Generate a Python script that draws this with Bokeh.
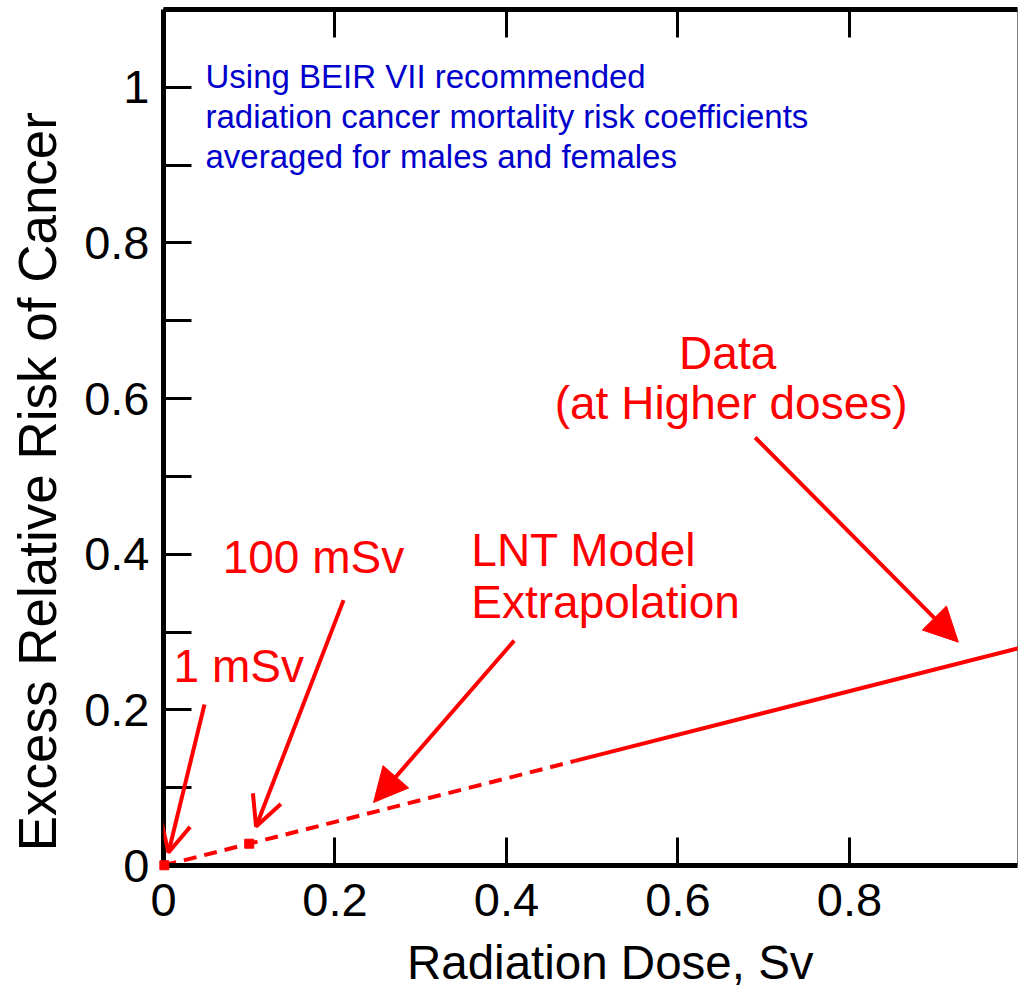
from bokeh.plotting import figure
from bokeh.models import (LinearAxis, FixedTicker, Range1d, Arrow,
                          NormalHead, OpenHead)
from bokeh.core.properties import value
from bokeh.embed import file_html
from bokeh.resources import INLINE

# ---- data ----
dose_extrap = [0.0, 0.48]
err_extrap = [0.0, 0.1344]
dose_data = [0.48, 1.0]
err_data = [0.1344, 0.28]
marker_dose = [0.001, 0.1]
marker_err = [0.0003, 0.028]

x_ticks = [0, 0.2, 0.4, 0.6, 0.8]
x_tick_labels = ["0", "0.2", "0.4", "0.6", "0.8"]
top_ticks = [0.2, 0.4, 0.6, 0.8]
y_ticks = [0, 0.2, 0.4, 0.6, 0.8, 1.0]
y_tick_labels = ["0", "0.2", "0.4", "0.6", "0.8", "1"]
y_minor = [0.1, 0.3, 0.5, 0.7, 0.9, 1.1]

note_lines = ["Using BEIR VII recommended",
              "radiation cancer mortality risk coefficients",
              "averaged for males and females"]
note_x = [0.049, 0.049, 0.049]
note_y = [1.014, 0.963, 0.911]

red_texts_left = ["1 mSv", "100 mSv", "LNT Model", "Extrapolation"]
red_left_x = [0.0117, 0.069, 0.359, 0.359]
red_left_y = [0.256, 0.396, 0.406, 0.339]
red_texts_center = ["Data", "(at Higher doses)"]
red_center_x = [0.658, 0.662]
red_center_y = [0.658, 0.594]

# arrows: (x_start, y_start, x_end, y_end, head)
arrows = [
    (0.0478, 0.207, 0.0058, 0.0167, "open"),
    (0.210, 0.341, 0.108, 0.050, "open"),
    (0.409, 0.289, 0.245, 0.081, "filled"),
    (0.690, 0.550, 0.927, 0.287, "filled"),
]

NB = "\u00a0"
x_title = NB * 3 + "Radiation Dose, Sv"
y_title = "Excess Relative Risk of Cancer" + NB * 6

FONT = "Liberation Sans"
RED = "#ff0000"

p = figure(width=1019, height=992, output_backend="svg", toolbar_location=None,
           x_range=Range1d(0, 0.996), y_range=Range1d(0, 1.1),
           min_border_left=163, min_border_right=2, min_border_top=9,
           min_border_bottom=127)
p.background_fill_color = "white"
p.border_fill_color = "white"
p.grid.visible = False
p.outline_line_color = "#7f7f7f"
p.outline_line_width = 1


def style_axis(ax):
    ax.axis_line_width = 5
    ax.axis_line_color = "black"
    ax.major_tick_in = 28
    ax.major_tick_out = 0
    ax.major_tick_line_width = 3
    ax.major_tick_line_color = "black"
    ax.minor_tick_in = 28
    ax.minor_tick_out = 0
    ax.minor_tick_line_width = 3
    ax.minor_tick_line_color = "black"
    ax.major_label_text_font = FONT
    ax.major_label_text_font_size = "47px"
    ax.major_label_text_color = "black"
    ax.axis_label_text_font = FONT
    ax.axis_label_text_font_style = "normal"
    ax.axis_label_text_color = "black"


xa = p.xaxis[0]
style_axis(xa)
xa.ticker = FixedTicker(ticks=x_ticks)
xa.major_label_overrides = {t: l for t, l in zip(x_ticks, x_tick_labels)}
xa.major_label_standoff = 18
xa.minor_tick_line_color = None
xa.axis_label = x_title
xa.axis_label_text_font_size = "47.5px"
xa.axis_label_standoff = 17

ya = p.yaxis[0]
style_axis(ya)
ya.ticker = FixedTicker(ticks=y_ticks, minor_ticks=y_minor)
ya.major_label_overrides = {t: l for t, l in zip(y_ticks, y_tick_labels)}
ya.major_label_standoff = 14
ya.axis_label = y_title
ya.axis_label_text_font_size = "53px"
ya.axis_label_standoff = 14

top = LinearAxis(ticker=FixedTicker(ticks=[], minor_ticks=top_ticks))
style_axis(top)
p.add_layout(top, "above")

# lines
p.line(dose_extrap, err_extrap, line_color=RED, line_width=4, line_dash="13 8")
p.line(dose_data, err_data, line_color=RED, line_width=4)
p.scatter(marker_dose, marker_err, marker="square", size=9, color=RED,
          level="overlay")

# texts
p.text(x=note_x, y=note_y, text=note_lines, text_color="#0000cc",
       text_font=value(FONT), text_font_size="33px", text_baseline="alphabetic",
       text_align="left")
p.text(x=red_left_x, y=red_left_y, text=red_texts_left, text_color=RED,
       text_font=value(FONT), text_font_size="46px", text_baseline="alphabetic",
       text_align="left")
p.text(x=red_center_x, y=red_center_y, text=red_texts_center, text_color=RED,
       text_font=value(FONT), text_font_size="46px", text_baseline="alphabetic",
       text_align="center")

for xs, ys, xe, ye, kind in arrows:
    if kind == "open":
        head = OpenHead(size=30, line_color=RED, line_width=4)
    else:
        head = NormalHead(size=34, line_color=RED, fill_color=RED, line_width=1)
    p.add_layout(Arrow(end=head, x_start=xs, y_start=ys, x_end=xe, y_end=ye,
                       line_color=RED, line_width=4))

open("out.html", "w").write(file_html(p, INLINE))
